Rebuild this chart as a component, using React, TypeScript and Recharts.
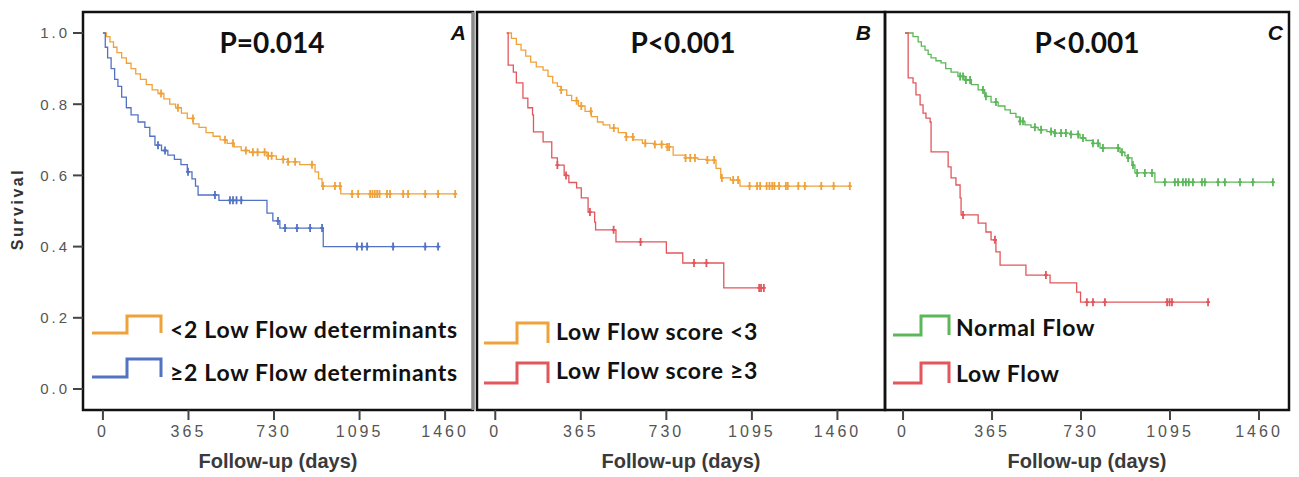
import React from 'react';
import { ComposedChart, Line, Scatter, XAxis, YAxis, ReferenceArea, ReferenceLine } from 'recharts';

// axis ticks
const dayTicks = [0, 365, 730, 1095, 1460];
const survTicks = [0, 0.2, 0.4, 0.6, 0.8, 1.0];

// Panel A: <2 vs >=2 low flow determinants
const aLowT = [0, 15, 30, 45, 60, 80, 100, 120, 140, 160, 185, 210, 235, 260, 285, 310, 335, 360, 385, 410, 440, 470, 500, 530, 560, 590, 625, 700, 740, 790, 840, 905, 920, 935, 1015, 1505];
const aLowS = [1.0, 0.99, 0.975, 0.96, 0.945, 0.93, 0.915, 0.9, 0.885, 0.87, 0.855, 0.84, 0.83, 0.815, 0.8, 0.79, 0.775, 0.76, 0.745, 0.735, 0.72, 0.71, 0.7, 0.69, 0.68, 0.67, 0.665, 0.655, 0.645, 0.638, 0.63, 0.61, 0.59, 0.57, 0.548, 0.548];
const aLowCens = [248, 320, 384, 521, 555, 610, 640, 660, 690, 705, 720, 769, 790, 820, 892, 939, 990, 1012, 1063, 1089, 1140, 1150, 1160, 1170, 1180, 1212, 1225, 1281, 1302, 1375, 1430, 1503];

const aHighT = [0, 10, 20, 35, 50, 64, 80, 100, 120, 150, 179, 200, 222, 250, 277, 305, 333, 360, 380, 395, 406, 495, 700, 725, 755, 940, 1440];
const aHighS = [1.0, 0.96, 0.93, 0.9, 0.87, 0.85, 0.82, 0.79, 0.77, 0.75, 0.735, 0.71, 0.685, 0.67, 0.657, 0.645, 0.63, 0.61, 0.59, 0.57, 0.545, 0.53, 0.494, 0.472, 0.452, 0.4, 0.4];
const aHighCens = [235, 265, 363, 478, 542, 555, 570, 590, 747, 777, 828, 884, 935, 1084, 1105, 1127, 1238, 1375, 1430];

// Panel B: low flow score <3 vs >=3
const bLowT = [49, 69, 90, 110, 130, 151, 175, 204, 225, 245, 265, 281, 305, 326, 355, 383, 410, 436, 460, 489, 525, 559, 590, 628, 680, 734, 759, 812, 865, 905, 942, 962, 1003, 1044, 1513];
const bLowS = [1.0, 0.985, 0.968, 0.952, 0.935, 0.918, 0.905, 0.896, 0.878, 0.86, 0.85, 0.84, 0.825, 0.81, 0.795, 0.78, 0.765, 0.75, 0.742, 0.733, 0.72, 0.708, 0.7, 0.69, 0.687, 0.68, 0.657, 0.649, 0.645, 0.643, 0.62, 0.593, 0.587, 0.57, 0.57];
const bLowCens = [281, 347, 367, 408, 506, 559, 587, 640, 681, 710, 734, 742, 812, 832, 852, 905, 934, 967, 1015, 1036, 1085, 1117, 1130, 1158, 1170, 1182, 1191, 1211, 1240, 1248, 1293, 1321, 1391, 1444, 1513];

const bHighT = [49, 55, 77, 90, 118, 139, 159, 163, 204, 241, 265, 294, 314, 347, 367, 396, 424, 428, 515, 730, 800, 975, 1150];
const bHighS = [1.0, 0.91, 0.89, 0.86, 0.817, 0.79, 0.77, 0.722, 0.694, 0.649, 0.629, 0.6, 0.58, 0.565, 0.537, 0.497, 0.469, 0.447, 0.413, 0.382, 0.354, 0.284, 0.284];
const bHighCens = [265, 302, 404, 505, 620, 848, 901, 1126, 1134, 1146];

// Panel C: normal flow vs low flow
const cNormT = [8, 41, 62, 75, 90, 103, 115, 135, 156, 175, 197, 225, 254, 280, 308, 335, 361, 390, 418, 440, 463, 480, 500, 525, 554, 590, 623, 689, 726, 750, 779, 808, 890, 910, 923, 939, 951, 1033, 1517];
const cNormS = [1.0, 0.99, 0.975, 0.963, 0.952, 0.94, 0.93, 0.922, 0.916, 0.9, 0.89, 0.878, 0.868, 0.855, 0.84, 0.822, 0.806, 0.795, 0.784, 0.774, 0.764, 0.752, 0.742, 0.735, 0.728, 0.723, 0.719, 0.715, 0.705, 0.698, 0.69, 0.677, 0.665, 0.655, 0.649, 0.629, 0.607, 0.581, 0.581];
const cNormCens = [234, 246, 258, 275, 328, 340, 381, 480, 492, 541, 566, 607, 623, 648, 668, 689, 718, 738, 779, 800, 820, 882, 898, 923, 943, 960, 992, 1021, 1074, 1115, 1128, 1148, 1160, 1172, 1189, 1226, 1238, 1292, 1320, 1382, 1435, 1517];

const cLowT = [8, 21, 41, 53, 70, 82, 94, 111, 115, 185, 197, 217, 234, 238, 308, 340, 361, 381, 398, 504, 603, 712, 728, 1259];
const cLowS = [1.0, 0.874, 0.86, 0.826, 0.798, 0.775, 0.761, 0.75, 0.666, 0.624, 0.593, 0.573, 0.537, 0.489, 0.466, 0.441, 0.419, 0.385, 0.348, 0.32, 0.298, 0.272, 0.244, 0.244];
const cLowCens = [246, 377, 586, 754, 779, 828, 1083, 1093, 1103, 1251];

const ORANGE = '#f0a23a';
const BLUE = '#5272c4';
const RED = '#e2575c';
const GREEN = '#5cb75a';

const yDomain = [-0.059, 1.059];

function steps(T: number[], S: number[]) {
  return T.map((t, i) => ({ t, s: S[i] }));
}

function marks(T: number[], S: number[], cens: number[]) {
  return cens.map(t => {
    let s = S[0];
    for (let i = 0; i < T.length; i++) if (T[i] <= t) s = S[i];
    return { t, s };
  });
}

const Cross = (color: string) => (props: any) => {
  const { cx, cy } = props;
  if (cx == null || cy == null) return <g />;
  return <path d={`M${cx},${cy - 4}V${cy + 4}M${cx - 2},${cy}H${cx + 2}`} stroke={color} strokeWidth={1.8} fill="none" />;
};

type Curve = { T: number[]; S: number[]; cens: number[]; color: string; name: string };

function Panel({ curves, xDomain, width, margin, showY, grayRight }: {
  curves: Curve[]; xDomain: number[]; width: number;
  margin: { top: number; right: number; bottom: number; left: number }; showY: boolean; grayRight?: boolean;
}) {
  return (
    <ComposedChart width={width} height={477} margin={margin}>
      <XAxis
        type="number" dataKey="t" domain={xDomain} ticks={dayTicks} allowDataOverflow
        axisLine={false} tickSize={10} tickMargin={6} height={67}
        tickLine={{ stroke: '#444', strokeWidth: 2 }}
        tick={{ fill: '#555', fontSize: 16, fontFamily: 'Liberation Sans, Arial', letterSpacing: 3 }}
        label={{ value: 'Follow-up (days)', position: 'insideBottom', offset: 9, fill: '#3a3a3a', fontSize: 20, fontWeight: 'bold', fontFamily: 'Liberation Sans, Arial' }}
      />
      <YAxis
        type="number" dataKey="s" domain={yDomain} ticks={survTicks} allowDataOverflow
        hide={!showY} width={83} axisLine={false} tickSize={10} tickMargin={3}
        tickLine={{ stroke: '#444', strokeWidth: 2 }}
        tickFormatter={(v: number) => v.toFixed(1)}
        tick={{ fill: '#555', fontSize: 15, fontFamily: 'Liberation Sans, Arial', letterSpacing: 3 }}
      />
      <ReferenceArea x1={xDomain[0]} x2={xDomain[1]} y1={yDomain[0]} y2={yDomain[1]} fill="none" fillOpacity={0} stroke="#111" strokeWidth={2.5} ifOverflow="visible" />
      {grayRight && <ReferenceLine x={xDomain[1]} stroke="#8a8a8a" strokeWidth={3} ifOverflow="visible" />}
      {curves.map(c => (
        <Line key={c.name} data={steps(c.T, c.S)} dataKey="s" type="stepAfter" stroke={c.color} strokeWidth={1.3} dot={false} isAnimationActive={false} name={c.name} />
      ))}
      {curves.map(c => (
        <Scatter key={c.name + '-c'} data={marks(c.T, c.S, c.cens)} dataKey="s" shape={Cross(c.color)} isAnimationActive={false} />
      ))}
    </ComposedChart>
  );
}

const legendFont = { fontFamily: 'Lato, sans-serif', fontWeight: 700, fontSize: 23, letterSpacing: 0.7, fill: '#111' };

function LegendItem({ x, top, bottom, stepW, totalW, color, label, tx, ty }: any) {
  const d = `M${x},${bottom}H${x + stepW}V${top}H${x + totalW}V${bottom}`;
  return (
    <g>
      <path d={d} stroke={color} strokeWidth={3} fill="none" />
      <text x={tx} y={ty} style={legendFont as any}>{label}</text>
    </g>
  );
}

export default function App() {
  return (
    <div style={{ position: 'absolute', left: 0, top: 0, width: 1299, height: 477, background: '#fff', overflow: 'hidden' }}>
      <div style={{ position: 'absolute', left: 0, top: 0 }}>
        <Panel width={478} margin={{ top: 12, right: 5, bottom: 0, left: 0 }} xDomain={[-85, 1579]} showY grayRight
          curves={[
            { T: aLowT, S: aLowS, cens: aLowCens, color: ORANGE, name: '<2 Low Flow determinants' },
            { T: aHighT, S: aHighS, cens: aHighCens, color: BLUE, name: '≥2 Low Flow determinants' },
          ]} />
      </div>
      <div style={{ position: 'absolute', left: 475, top: 0 }}>
        <Panel width={415} margin={{ top: 12, right: 5, bottom: 0, left: 2 }} xDomain={[-78, 1663]} showY={false}
          curves={[
            { T: bLowT, S: bLowS, cens: bLowCens, color: ORANGE, name: 'Low Flow score <3' },
            { T: bHighT, S: bHighS, cens: bHighCens, color: RED, name: 'Low Flow score ≥3' },
          ]} />
      </div>
      <div style={{ position: 'absolute', left: 883, top: 0 }}>
        <Panel width={416} margin={{ top: 12, right: 10, bottom: 0, left: 2 }} xDomain={[-74, 1583]} showY={false}
          curves={[
            { T: cNormT, S: cNormS, cens: cNormCens, color: GREEN, name: 'Normal Flow' },
            { T: cLowT, S: cLowS, cens: cLowCens, color: RED, name: 'Low Flow' },
          ]} />
      </div>
      <svg width={1299} height={477} style={{ position: 'absolute', left: 0, top: 0, pointerEvents: 'none' }}>
        <text transform="translate(23,209) rotate(-90)" textAnchor="middle" fill="#333"
          style={{ fontFamily: 'Liberation Sans, Arial', fontWeight: 700, fontSize: 16, letterSpacing: 2.5 }}>Survival</text>
        <g style={{ fontFamily: 'Lato, sans-serif', fontWeight: 700, fontSize: 28 }}>
          <text x={272} y={53} textAnchor="middle" fill="#111">P=0.014</text>
          <text x={683} y={53} textAnchor="middle" fill="#111">P&lt;0.001</text>
          <text x={1087} y={53} textAnchor="middle" fill="#111">P&lt;0.001</text>
        </g>
        <g style={{ fontFamily: 'Liberation Sans, Arial', fontWeight: 700, fontStyle: 'italic', fontSize: 21 }}>
          <text x={466} y={40} textAnchor="end" fill="#111">A</text>
          <text x={871} y={40} textAnchor="end" fill="#111">B</text>
          <text x={1283} y={40} textAnchor="end" fill="#111">C</text>
        </g>
        <LegendItem x={92} top={316} bottom={333} stepW={35} totalW={69} color={ORANGE} label="<2 Low Flow determinants" tx={170} ty={338} />
        <LegendItem x={92} top={359} bottom={377} stepW={35} totalW={69} color={BLUE} label="≥2 Low Flow determinants" tx={170} ty={381} />
        <LegendItem x={484} top={323} bottom={343} stepW={33} totalW={64} color={ORANGE} label="Low Flow score <3" tx={556} ty={340} />
        <LegendItem x={484} top={363} bottom={383} stepW={33} totalW={64} color={RED} label="Low Flow score ≥3" tx={556} ty={379} />
        <LegendItem x={893} top={316} bottom={335} stepW={28} totalW={56} color={GREEN} label="Normal Flow" tx={956} ty={336} />
        <LegendItem x={893} top={363} bottom={383} stepW={28} totalW={56} color={RED} label="Low Flow" tx={956} ty={382} />
      </svg>
    </div>
  );
}
